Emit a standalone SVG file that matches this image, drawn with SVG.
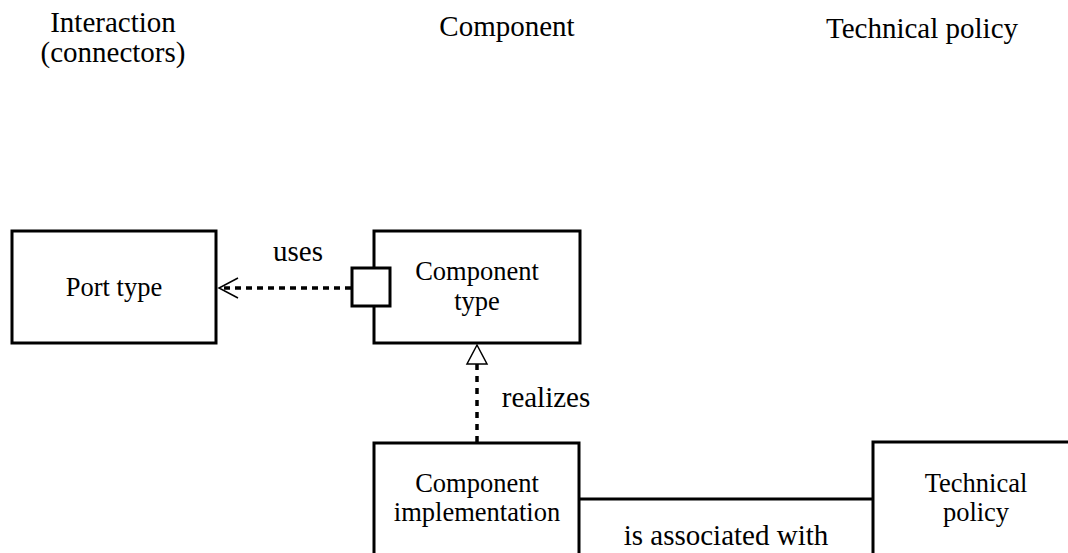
<svg xmlns="http://www.w3.org/2000/svg" width="1068" height="553" viewBox="0 0 1068 553">
<style>
.box{fill:#fff;stroke:#000;stroke-width:3}
.t{font-family:"Liberation Serif","Times New Roman",serif;fill:#000;text-anchor:middle}
.bt{font-size:26.5px}
.ht{font-size:29px}
.lt{font-size:29px}
.dash{fill:none;stroke:#000;stroke-width:3.5;stroke-dasharray:6 5}
.ln{fill:none;stroke:#000;stroke-width:3}
</style>
<g id="headers">
<text class="t ht" x="113" y="32">Interaction</text>
<text class="t ht" x="113" y="62">(connectors)</text>
<text class="t ht" x="507" y="36">Component</text>
<text class="t ht" x="922" y="38">Technical policy</text>
</g>
<g id="connectors">
<line class="dash" x1="351" y1="288" x2="222" y2="288"/>
<path d="M238 278 L219 288 L238 298" fill="none" stroke="#000" stroke-width="1.5"/>
<line class="dash" x1="477" y1="442" x2="477" y2="364" style="stroke-dasharray:6 6"/>
<path d="M477 345 L467 364 L487 364 Z" fill="#fff" stroke="#000" stroke-width="1.5"/>
<line class="ln" x1="580" y1="499" x2="873" y2="499"/>
<text class="t lt" x="298" y="261">uses</text>
<text class="t lt" x="546" y="407">realizes</text>
<text class="t lt" x="726" y="545">is associated with</text>
</g>
<g id="port-type">
<rect class="box" x="12" y="231" width="204" height="112"/>
<text class="t bt" x="114" y="296">Port type</text>
</g>
<g id="component-type">
<rect class="box" x="374" y="231" width="206" height="112"/>
<rect class="box" x="352" y="268" width="38" height="38"/>
<text class="t bt" x="477" y="280">Component</text>
<text class="t bt" x="477" y="310">type</text>
</g>
<g id="component-implementation">
<rect class="box" x="374" y="443" width="205" height="130"/>
<text class="t bt" x="477" y="492">Component</text>
<text class="t bt" x="477" y="521">implementation</text>
</g>
<g id="technical-policy">
<rect class="box" x="873" y="442" width="220" height="130"/>
<text class="t bt" x="976" y="492">Technical</text>
<text class="t bt" x="976" y="521">policy</text>
</g>
</svg>
